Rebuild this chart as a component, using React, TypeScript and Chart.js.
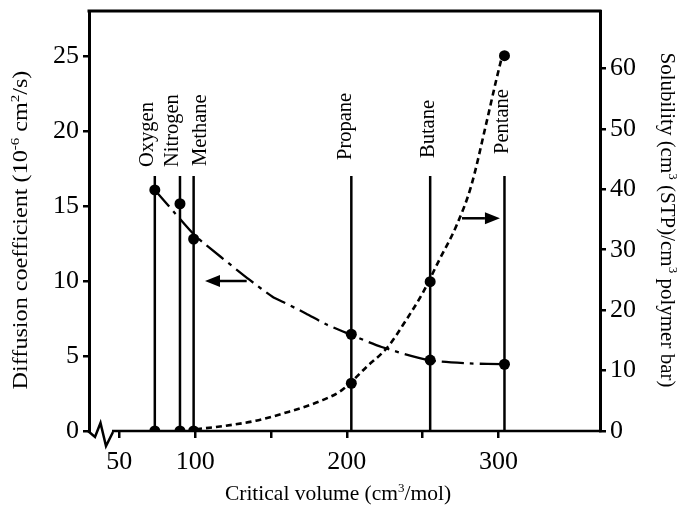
import { useEffect, useRef } from "react";
import { Chart, registerables } from "chart.js";

Chart.register(...registerables);

const FONT = '"Liberation Serif", "Times New Roman", serif';

// ---- data ----
const gasNames = ["Oxygen", "Nitrogen", "Methane", "Propane", "Butane", "Pentane"];
const criticalVolumes = [73.4, 90, 99, 203, 255, 304];
const diffusionValues = [16.07, 15.15, 12.8, 6.45, 4.73, 4.45];
const solubilityValues = [0, 0, 0, 7.9, 24.7, 62.1];

const diffusionCurveX = [73.4, 86, 99.5, 117, 136, 151, 158, 173, 186, 202, 223, 254, 281, 304];
const diffusionCurveY = [16.07, 14.6, 13.07, 11.6, 10.07, 8.95, 8.6, 7.84, 7.13, 6.45, 5.6, 4.73, 4.51, 4.45];

const solubilityCurveX = [100.6, 118, 140, 162, 184, 197, 213, 227, 239, 250, 261, 272, 282, 292, 298.5, 302.5];
const solubilityCurveY = [0.3, 0.8, 1.7, 3.2, 5.1, 6.8, 10.6, 13.9, 18.3, 22.8, 28.3, 33.8, 40.5, 50.9, 58, 62.1];

const xTicks = [50, 100, 150, 200, 250, 300];
const xTickLabels = ["50", "100", "", "200", "", "300"];
const leftTicks = [0, 5, 10, 15, 20, 25];
const rightTicks = [0, 10, 20, 30, 40, 50, 60];

const gasLineTop = 17; // left-axis units
const diffusionArrowX = [134, 106.5]; // tail, tip
const diffusionArrowY = 10; // left axis
const solubilityArrowX = [276, 301];
const solubilityArrowY = 35.2; // right axis

// label styling (pixel nudges)
const labelGap = [9, 9, 10, 16, 18, 22];
const labelShift = [-2, -2, 12, 0, 4, 4];

type Seg = { t: string; sup?: boolean };

function drawRich(
  ctx: CanvasRenderingContext2D,
  segs: Seg[],
  x: number,
  y: number,
  size: number,
  rot: number,
  stretch = 1
) {
  const base = `${size}px ${FONT}`;
  const supF = `${Math.round(size * 0.62)}px ${FONT}`;
  ctx.save();
  ctx.translate(x, y);
  ctx.rotate(rot);
  ctx.scale(stretch, 1);
  ctx.textBaseline = "alphabetic";
  ctx.textAlign = "left";
  ctx.fillStyle = "#000";
  const widths = segs.map((s) => {
    ctx.font = s.sup ? supF : base;
    return ctx.measureText(s.t).width;
  });
  const total = widths.reduce((a, b) => a + b, 0);
  let cx = -total / 2;
  segs.forEach((s, i) => {
    ctx.font = s.sup ? supF : base;
    ctx.fillText(s.t, cx, s.sup ? -size * 0.38 : 0);
    cx += widths[i];
  });
  ctx.restore();
}

function drawArrow(ctx: CanvasRenderingContext2D, x1: number, x2: number, y: number) {
  const dir = Math.sign(x2 - x1);
  const headLen = 15;
  const headHalf = 6;
  ctx.save();
  ctx.strokeStyle = "#000";
  ctx.fillStyle = "#000";
  ctx.lineWidth = 2.5;
  ctx.beginPath();
  ctx.moveTo(x1, y);
  ctx.lineTo(x2 - dir * headLen, y);
  ctx.stroke();
  ctx.beginPath();
  ctx.moveTo(x2, y);
  ctx.lineTo(x2 - dir * headLen, y - headHalf);
  ctx.lineTo(x2 - dir * headLen, y + headHalf);
  ctx.closePath();
  ctx.fill();
  ctx.restore();
}

export default function App() {
  const ref = useRef<HTMLCanvasElement>(null);

  useEffect(() => {
    const canvas = ref.current;
    if (!canvas) return;

    const pts = (xs: number[], ys: number[]) => xs.map((x, i) => ({ x, y: ys[i] }));

    const verticals = criticalVolumes.map((v) => ({
      data: [
        { x: v, y: 0 },
        { x: v, y: gasLineTop },
      ],
      showLine: true,
      borderColor: "#000",
      borderWidth: 2.5,
      pointRadius: 0,
      yAxisID: "y",
      borderCapStyle: "butt" as const,
    }));

    const overlay = {
      id: "overlay",
      beforeDatasetsDraw(chart: any) {
        const { ctx, chartArea } = chart;
        const { left, right, top, bottom } = chartArea;
        ctx.save();
        ctx.strokeStyle = "#000";
        ctx.lineWidth = 3;
        ctx.beginPath();
        ctx.moveTo(left - 1.5, top);
        ctx.lineTo(right + 1.5, top);
        ctx.stroke();
        // bottom axis with break mark
        ctx.lineWidth = 2.5;
        ctx.lineJoin = "miter";
        ctx.beginPath();
        ctx.moveTo(left - 1, bottom);
        ctx.lineTo(left + 6, bottom + 6);
        ctx.lineTo(left + 11.5, bottom - 8);
        ctx.lineTo(left + 17, bottom + 15);
        ctx.lineTo(left + 24, bottom + 1);
        ctx.stroke();
        ctx.beginPath();
        ctx.moveTo(left + 23, bottom);
        ctx.lineTo(right + 1.5, bottom);
        ctx.stroke();
        ctx.restore();
      },
      afterDatasetsDraw(chart: any) {
        const { ctx } = chart;
        const xs = chart.scales.x;
        const ys = chart.scales.y;
        const ys2 = chart.scales.y2;

        // gas labels
        const topPx = ys.getPixelForValue(gasLineTop);
        ctx.save();
        ctx.font = `20.5px ${FONT}`;
        ctx.fillStyle = "#000";
        ctx.textAlign = "left";
        ctx.textBaseline = "alphabetic";
        gasNames.forEach((name, i) => {
          const px = xs.getPixelForValue(criticalVolumes[i]) + labelShift[i];
          ctx.save();
          ctx.translate(px, topPx - labelGap[i]);
          ctx.rotate(-Math.PI / 2);
          ctx.fillText(name, 0, 0);
          ctx.restore();
        });
        ctx.restore();

        // arrows
        drawArrow(
          ctx,
          xs.getPixelForValue(diffusionArrowX[0]),
          xs.getPixelForValue(diffusionArrowX[1]),
          ys.getPixelForValue(diffusionArrowY)
        );
        drawArrow(
          ctx,
          xs.getPixelForValue(solubilityArrowX[0]),
          xs.getPixelForValue(solubilityArrowX[1]),
          ys2.getPixelForValue(solubilityArrowY)
        );

        // axis titles
        drawRich(
          ctx,
          [{ t: "Diffusion coefficient (10" }, { t: "-6", sup: true }, { t: " cm" }, { t: "2", sup: true }, { t: "/s)" }],
          27,
          230,
          21,
          -Math.PI / 2,
          1.15
        );
        drawRich(
          ctx,
          [
            { t: "Solubility (cm" },
            { t: "3", sup: true },
            { t: " (STP)/cm" },
            { t: "3", sup: true },
            { t: " polymer bar)" },
          ],
          661,
          220,
          21,
          Math.PI / 2
        );
        drawRich(
          ctx,
          [{ t: "Critical volume (cm" }, { t: "3", sup: true }, { t: "/mol)" }],
          338,
          500,
          21.5,
          0
        );
      },
    };

    const chart = new Chart(canvas, {
      type: "scatter",
      data: {
        datasets: [
          {
            data: pts(criticalVolumes, diffusionValues),
            showLine: false,
            pointRadius: 5.5,
            pointBackgroundColor: "#000",
            pointBorderWidth: 0,
            yAxisID: "y",
          },
          {
            data: pts(criticalVolumes, solubilityValues),
            showLine: false,
            pointRadius: 5.5,
            pointBackgroundColor: "#000",
            pointBorderWidth: 0,
            yAxisID: "y2",
          },
          {
            data: pts(diffusionCurveX, diffusionCurveY),
            showLine: true,
            borderColor: "#000",
            borderWidth: 2.3,
            borderDash: [22, 6, 4, 6],
            tension: 0.25,
            pointRadius: 0,
            yAxisID: "y",
          },
          {
            data: pts(solubilityCurveX, solubilityCurveY),
            showLine: true,
            borderColor: "#000",
            borderWidth: 2.6,
            borderDash: [6, 4],
            cubicInterpolationMode: "monotone",
            pointRadius: 0,
            yAxisID: "y2",
          },
          ...verticals,
        ] as any,
      },
      options: {
        animation: false,
        responsive: false,
        layout: { padding: { top: 11, left: 0, right: 0, bottom: 0 } },
        plugins: { legend: { display: false }, tooltip: { enabled: false } },
        scales: {
          x: {
            type: "linear",
            position: "bottom",
            min: 30,
            max: 367,
            afterBuildTicks: (s: any) => {
              s.ticks = xTicks.map((v) => ({ value: v }));
            },
            afterFit: (s: any) => {
              s.height = 77;
              s.paddingLeft = 0;
              s.paddingRight = 0;
            },
            ticks: {
              callback: (_v: any, i: number) => xTickLabels[i],
              color: "#000",
              font: { family: FONT, size: 26 },
              padding: 9,
              maxRotation: 0,
              autoSkip: false,
            },
            grid: { drawOnChartArea: false, drawTicks: true, tickLength: 7, color: "#000", lineWidth: 2.5 },
            border: { display: false },
          },
          y: {
            type: "linear",
            position: "left",
            min: 0,
            max: 28,
            afterBuildTicks: (s: any) => {
              s.ticks = leftTicks.map((v) => ({ value: v }));
            },
            afterFit: (s: any) => {
              s.width = 89;
              s.paddingTop = 0;
              s.paddingBottom = 0;
            },
            ticks: { color: "#000", font: { family: FONT, size: 26 }, padding: 4, callback: (v: any) => String(v) },
            grid: { drawOnChartArea: false, drawTicks: true, tickLength: 6, color: "#000", lineWidth: 2.5 },
            border: { display: true, color: "#000", width: 3 },
          },
          y2: {
            type: "linear",
            position: "right",
            min: 0,
            max: 69.5,
            afterBuildTicks: (s: any) => {
              s.ticks = rightTicks.map((v) => ({ value: v }));
            },
            afterFit: (s: any) => {
              s.width = 79;
              s.paddingTop = 0;
              s.paddingBottom = 0;
            },
            ticks: { color: "#000", font: { family: FONT, size: 26 }, padding: 4, callback: (v: any) => String(v) },
            grid: { drawOnChartArea: false, drawTicks: true, tickLength: 6, color: "#000", lineWidth: 2.5 },
            border: { display: true, color: "#000", width: 3 },
          },
        },
      } as any,
      plugins: [overlay],
    });

    return () => chart.destroy();
  }, []);

  return (
    <div style={{ position: "absolute", left: 0, top: 0, width: 679, height: 508, background: "#fff" }}>
      <canvas ref={ref} width={679} height={508} style={{ display: "block" }} />
    </div>
  );
}
